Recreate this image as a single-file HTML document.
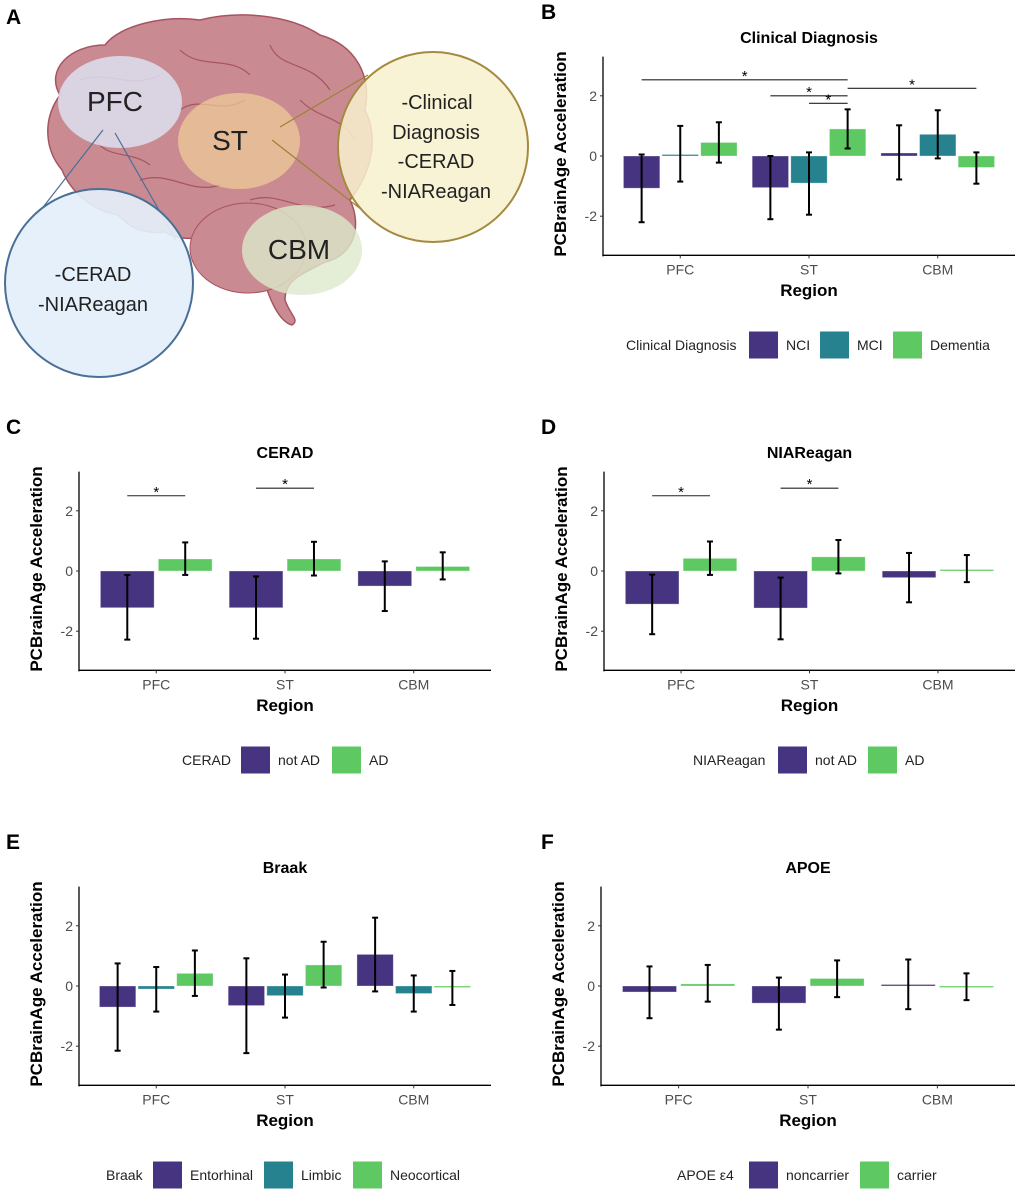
<!DOCTYPE html>
<html><head><meta charset="utf-8">
<style>
html,body{margin:0;padding:0;background:#fff;}
svg{display:block;font-family:"Liberation Sans",Arial,sans-serif;}
</style></head>
<body>
<svg id="fig" width="1020" height="1195" viewBox="0 0 1020 1195" xmlns="http://www.w3.org/2000/svg">
<g>
  <text x="6" y="24" font-size="21" font-weight="bold">A</text>
  <path d="M60,95 C45,70 70,45 105,45 C120,25 165,15 200,20 C240,10 290,15 320,35 C355,45 372,75 365,110 C380,140 370,175 350,200 C362,225 355,255 325,262 C300,275 285,280 285,300 C290,315 300,320 292,325 C280,322 268,300 262,270 C240,250 230,240 210,237 C185,240 175,238 165,232 C140,235 128,225 118,215 C90,210 70,190 62,170 C45,150 42,120 60,95 Z" fill="#c98b91" stroke="#a85460" stroke-width="1.5"/>
  <path d="M80,80 C110,70 130,90 160,75 M180,50 C200,70 230,55 250,75 M270,45 C280,70 310,60 330,90 M300,100 C320,120 340,115 355,140 M140,180 C170,170 190,195 220,185 M250,200 C280,190 300,215 335,205 M95,140 C110,160 130,150 150,165 M180,110 C200,95 220,115 245,100" fill="none" stroke="#a85460" stroke-width="1.2"/>
  <ellipse cx="248" cy="248" rx="58" ry="45" fill="#c98b91" stroke="#a85460" stroke-width="1"/>
  <ellipse cx="120" cy="102" rx="62" ry="46" fill="#dcdff0" fill-opacity="0.85"/>
  <ellipse cx="239" cy="141" rx="61" ry="48" fill="#f0cf9a" fill-opacity="0.7"/>
  <ellipse cx="302" cy="250" rx="60" ry="45" fill="#dde8cc" fill-opacity="0.8"/>
  <line x1="103" y1="130" x2="37" y2="215" stroke="#4a6f96" stroke-width="1.2"/>
  <line x1="115" y1="133" x2="176" y2="240" stroke="#4a6f96" stroke-width="1.2"/>
  <line x1="280" y1="127" x2="368" y2="75" stroke="#9a8236" stroke-width="1.2"/>
  <line x1="272" y1="140" x2="362" y2="210" stroke="#9a8236" stroke-width="1.2"/>
  <circle cx="433" cy="147" r="95" fill="#f8f1cf" fill-opacity="0.85" stroke="#a48a3e" stroke-width="2"/>
  <circle cx="99" cy="283" r="94" fill="#e4effa" fill-opacity="0.92" stroke="#4a6f96" stroke-width="2"/>
  <text x="115" y="111" font-size="28" text-anchor="middle" fill="#222">PFC</text>
  <text x="230" y="150" font-size="28" text-anchor="middle" fill="#222">ST</text>
  <text x="299" y="259" font-size="28" text-anchor="middle" fill="#222">CBM</text>
  <g font-size="20" text-anchor="middle" fill="#222">
    <text x="437" y="109">-Clinical</text>
    <text x="436" y="139">Diagnosis</text>
    <text x="436" y="168">-CERAD</text>
    <text x="436" y="198">-NIAReagan</text>
  </g>
  <g font-size="20" text-anchor="middle" fill="#222">
    <text x="93" y="281">-CERAD</text>
    <text x="93" y="311">-NIAReagan</text>
  </g>
</g>
<g id="charts"></g>
</svg>
<script>
const NS = "http://www.w3.org/2000/svg";
const regions = ["PFC", "ST", "CBM"];
const tickValues = [-2, 0, 2];
const tickLabels = ["-2", "0", "2"];

// Panel B: Clinical Diagnosis
const bGroups = ["NCI", "MCI", "Dementia"];
const bMeans = [[-1.07, 0.05, 0.45], [-1.05, -0.9, 0.9], [0.1, 0.72, -0.38]];
const bLo = [[-2.2, -0.85, -0.22], [-2.1, -1.95, 0.25], [-0.78, -0.08, -0.92]];
const bHi = [[0.05, 1.0, 1.12], [0.0, 0.12, 1.55], [1.02, 1.52, 0.12]];
const bSigFrom = [[0, 0], [1, 0], [1, 1], [1, 2]];
const bSigTo = [[1, 2], [1, 2], [1, 2], [2, 2]];
const bSigY = [2.53, 2.0, 1.75, 2.25];

// Panel C: CERAD
const cGroups = ["not AD", "AD"];
const cMeans = [[-1.22, 0.4], [-1.22, 0.4], [-0.5, 0.15]];
const cLo = [[-2.28, -0.13], [-2.25, -0.15], [-1.33, -0.28]];
const cHi = [[-0.13, 0.95], [-0.18, 0.97], [0.32, 0.62]];
const cSigFrom = [[0, 0], [1, 0]];
const cSigTo = [[0, 1], [1, 1]];
const cSigY = [2.5, 2.75];

// Panel D: NIAReagan
const dGroups = ["not AD", "AD"];
const dMeans = [[-1.1, 0.42], [-1.23, 0.47], [-0.22, 0.05]];
const dLo = [[-2.1, -0.13], [-2.27, -0.08], [-1.04, -0.37]];
const dHi = [[-0.12, 0.98], [-0.22, 1.03], [0.6, 0.53]];
const dSigFrom = [[0, 0], [1, 0]];
const dSigTo = [[0, 1], [1, 1]];
const dSigY = [2.5, 2.75];

// Panel E: Braak
const eGroups = ["Entorhinal", "Limbic", "Neocortical"];
const eMeans = [[-0.7, -0.1, 0.42], [-0.65, -0.32, 0.7], [1.05, -0.25, -0.05]];
const eLo = [[-2.15, -0.85, -0.33], [-2.23, -1.05, -0.05], [-0.18, -0.85, -0.63]];
const eHi = [[0.75, 0.63, 1.18], [0.92, 0.38, 1.47], [2.27, 0.35, 0.5]];

// Panel F: APOE
const fGroups = ["noncarrier", "carrier"];
const fMeans = [[-0.2, 0.07], [-0.57, 0.25], [0.05, -0.02]];
const fLo = [[-1.07, -0.52], [-1.45, -0.37], [-0.77, -0.47]];
const fHi = [[0.65, 0.7], [0.28, 0.85], [0.88, 0.42]];

const root = document.getElementById("charts");
function mk(tag, attrs, parent, txt) {
  const e = document.createElementNS(NS, tag);
  for (const k in attrs) e.setAttribute(k, attrs[k]);
  if (txt !== undefined) e.textContent = txt;
  parent.appendChild(e);
  return e;
}

function panel(p) {
  const g = mk("g", {}, root);
  
  
  const L = p.left, R = p.right, Z = p.zero, ppu = 30.1;
  const yv = v => Z - v * ppu;
  const unit = (R - L) / 3.2;
  const cx = i => L + (0.6 + i) * unit;
  const n = p.groups.length;
  const slot = unit * 0.9 / n;
  const bx = (i, j) => cx(i) + (j - (n - 1) / 2) * slot;

  const lab = mk("text", {x: p.labelX, y: Z - 137, "font-size": 21, "font-weight": "bold"}, g, p.letter);
  
  
  const t = mk("text", {x: (L + R) / 2, y: Z - 113, "font-size": 16, "font-weight": "bold", "text-anchor": "middle"}, g, p.title);
  
  

  for (let i = 0; i < regions.length; i++) {
    for (let j = 0; j < n; j++) {
      const v = p.means[i][j];
      const y0 = Math.min(yv(v), yv(0)), h = Math.abs(yv(v) - yv(0));
      const r = mk("rect", {x: bx(i, j) - slot * 0.9 / 2 - 0.8, y: y0, width: slot * 0.9 + 1.6, height: Math.max(h, 1.5), fill: p.colors[j], stroke: "#ffffff", "stroke-opacity": 0.4, "stroke-width": 0.8}, g);
      
      
    }
  }
  for (let i = 0; i < regions.length; i++) {
    for (let j = 0; j < n; j++) {
      const x = bx(i, j);
      const eg = mk("g", {stroke: "#000", "stroke-width": 2}, g);
      
      
      mk("line", {x1: x, x2: x, y1: yv(p.lo[i][j]), y2: yv(p.hi[i][j])}, eg);
      mk("line", {x1: x - 3, x2: x + 3, y1: yv(p.lo[i][j]), y2: yv(p.lo[i][j])}, eg);
      mk("line", {x1: x - 3, x2: x + 3, y1: yv(p.hi[i][j]), y2: yv(p.hi[i][j])}, eg);
    }
  }
  if (p.sigY) {
    for (let k = 0; k < p.sigY.length; k++) {
      const x1 = bx(p.sigFrom[k][0], p.sigFrom[k][1]), x2 = bx(p.sigTo[k][0], p.sigTo[k][1]);
      const y = yv(p.sigY[k]);
      const sl = mk("line", {x1: x1, x2: x2, y1: y, y2: y, stroke: "#222", "stroke-width": 1.1}, g);
      
      
      const st = mk("text", {x: (x1 + x2) / 2, y: y + 1, "font-size": 15, "text-anchor": "middle"}, g, "*");
      
      
    }
  }
  const top = yv(3.3), bot = yv(-3.3);
  const ya = mk("line", {x1: L, x2: L, y1: top, y2: bot + 1, stroke: "#000", "stroke-width": 1.3}, g);
  
  
  const xa = mk("line", {x1: L - 0.6, x2: R, y1: bot, y2: bot, stroke: "#000", "stroke-width": 1.3}, g);
  
  
  for (let k = 0; k < tickValues.length; k++) {
    const y = yv(tickValues[k]);
    mk("line", {x1: L - 3, x2: L, y1: y, y2: y, stroke: "#333", "stroke-width": 1}, g);
    const tl = mk("text", {x: L - 6, y: y + 5, "font-size": 14, fill: "#4d4d4d", "text-anchor": "end"}, g, tickLabels[k]);
    
    
  }
  for (let i = 0; i < regions.length; i++) {
    mk("line", {x1: cx(i), x2: cx(i), y1: bot, y2: bot + 3, stroke: "#333", "stroke-width": 1}, g);
    const xl = mk("text", {x: cx(i), y: bot + 19, "font-size": 14, fill: "#4d4d4d", "text-anchor": "middle"}, g, regions[i]);
    
    
  }
  const xt = mk("text", {x: (L + R) / 2, y: Z + 140, "font-size": 17, "font-weight": "bold", "text-anchor": "middle"}, g, "Region");
  
  
  const yt = mk("text", {x: 0, y: 0, "font-size": 17, "font-weight": "bold", "text-anchor": "middle", transform: "translate(" + (L - 37) + "," + (Z - 2) + ") rotate(-90)"}, g, "PCBrainAge Acceleration");
  
  

  const ly = Z + 189;
  const lg = mk("g", {}, g);
  
  
  const lt = mk("text", {x: p.legX[0], y: ly + 5, "font-size": 14, fill: "#222"}, lg, p.legTitle);
  
  
  for (let j = 0; j < n; j++) {
    const bxp = p.legX[1 + j];
    const sw = mk("rect", {x: bxp, y: ly - 13.5, width: 29, height: 27, fill: p.colors[j]}, lg);
    
    
    const le = mk("text", {x: bxp + 37, y: ly + 5, "font-size": 14, fill: "#222"}, lg, p.groups[j]);
    
    
  }
}

const P = "#463480", T = "#26828e", G = "#5ec962";
panel({name: "chart-clinical-diagnosis", letter: "B", labelX: 541, title: "Clinical Diagnosis", left: 603, right: 1015, zero: 156,
  groups: bGroups, means: bMeans, lo: bLo, hi: bHi, colors: [P, T, G], sigFrom: bSigFrom, sigTo: bSigTo, sigY: bSigY,
  legTitle: "Clinical Diagnosis", legX: [626, 749, 820, 893]});
panel({name: "chart-cerad", letter: "C", labelX: 6, title: "CERAD", left: 79, right: 491, zero: 571,
  groups: cGroups, means: cMeans, lo: cLo, hi: cHi, colors: [P, G], sigFrom: cSigFrom, sigTo: cSigTo, sigY: cSigY,
  legTitle: "CERAD", legX: [182, 241, 332]});
panel({name: "chart-niareagan", letter: "D", labelX: 541, title: "NIAReagan", left: 604, right: 1015, zero: 571,
  groups: dGroups, means: dMeans, lo: dLo, hi: dHi, colors: [P, G], sigFrom: dSigFrom, sigTo: dSigTo, sigY: dSigY,
  legTitle: "NIAReagan", legX: [693, 778, 868]});
panel({name: "chart-braak", letter: "E", labelX: 6, title: "Braak", left: 79, right: 491, zero: 986,
  groups: eGroups, means: eMeans, lo: eLo, hi: eHi, colors: [P, T, G],
  legTitle: "Braak", legX: [106, 153, 264, 353]});
panel({name: "chart-apoe", letter: "F", labelX: 541, title: "APOE", left: 601, right: 1015, zero: 986,
  groups: fGroups, means: fMeans, lo: fLo, hi: fHi, colors: [P, G],
  legTitle: "APOE \u03b54", legX: [677, 749, 860]});
</script>
</body></html>
